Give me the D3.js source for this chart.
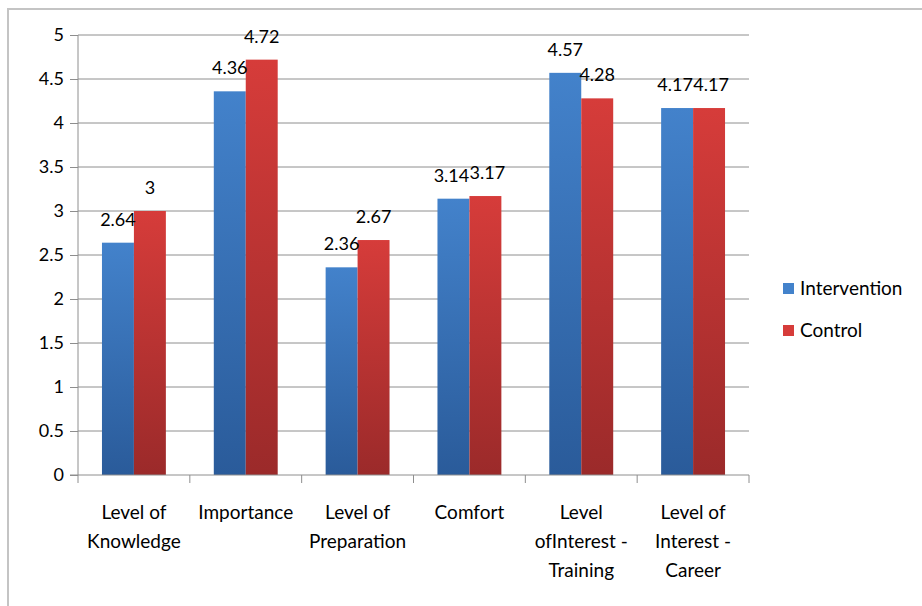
<!doctype html>
<html>
<head>
<meta charset="utf-8">
<script src="https://cdn.jsdelivr.net/npm/d3@7"></script>
<style>
  body { margin:0; background:#fff; }
  text { font-family: Lato, "Open Sans", sans-serif; fill:#000; }
</style>
</head>
<body>
<svg id="chart"></svg>
<script>
// data
var categories = ["Level of Knowledge","Importance","Level of Preparation","Comfort","Level ofInterest - Training","Level of Interest - Career"];
var catLines = [["Level of","Knowledge"],["Importance"],["Level of","Preparation"],["Comfort"],["Level","ofInterest -","Training"],["Level of","Interest -","Career"]];
var series = ["Intervention","Control"];
var intervention = [2.64,4.36,2.36,3.14,4.57,4.17];
var control = [3,4.72,2.67,3.17,4.28,4.17];
var yTicks = [0,0.5,1,1.5,2,2.5,3,3.5,4,4.5,5];

var width=922,height=606;
var plot={left:78,right:749,top:35,bottom:475};
var colors={Intervention:["#4382cb","#2a5b9a"],Control:["#d63c3a","#9b2a2a"]};

var svg=d3.select("#chart").attr("width",width).attr("height",height);

// outer frame
svg.append("rect").attr("x",8).attr("y",9).attr("width",width).attr("height",height)
   .attr("fill","#fff").attr("stroke","#c4c4c4").attr("stroke-width",2);

var defs=svg.append("defs");
series.forEach(function(s){
  var g=defs.append("linearGradient").attr("id","g"+s).attr("x1",0).attr("y1",0).attr("x2",0).attr("y2",1);
  g.append("stop").attr("offset","0%").attr("stop-color",colors[s][0]);
  g.append("stop").attr("offset","100%").attr("stop-color",colors[s][1]);
});

var x=d3.scaleBand().domain(categories).range([plot.left,plot.right]);
var xs=d3.scaleBand().domain(series).range([0,x.bandwidth()]).paddingInner(0).paddingOuter(0.75);
var y=d3.scaleLinear().domain([0,5]).range([plot.bottom,plot.top]);

// gridlines
svg.append("g").selectAll("line").data(yTicks.filter(function(t){return t>0;})).enter().append("line")
   .attr("x1",plot.left).attr("x2",plot.right)
   .attr("y1",function(d){return y(d);}).attr("y2",function(d){return y(d);})
   .attr("stroke","#8e8e8e").attr("stroke-width",1);

// y axis
var yaxis=d3.axisLeft(y).tickValues(yTicks).tickSize(8).tickPadding(6).tickFormat(function(d){return String(d);});
var yg=svg.append("g").attr("transform","translate("+plot.left+",0)").call(yaxis);
yg.select(".domain").attr("stroke","#8e8e8e").attr("d","M0,"+plot.top+"V"+plot.bottom);
yg.selectAll(".tick line").attr("stroke","#8e8e8e");
yg.selectAll(".tick text").style("font-size","18px").attr("fill","#000");

// bars
var data=categories.map(function(c,i){return {cat:c,vals:[{s:"Intervention",v:intervention[i],o:control[i]},{s:"Control",v:control[i],o:intervention[i]}]};});
var grp=svg.append("g").selectAll("g").data(data).enter().append("g")
   .attr("transform",function(d){return "translate("+x(d.cat)+",0)";});
grp.selectAll("rect").data(function(d){return d.vals;}).enter().append("rect")
   .attr("x",function(d){return xs(d.s);}).attr("width",xs.bandwidth())
   .attr("y",function(d){return y(d.v);}).attr("height",function(d){return y(0)-y(d.v);})
   .attr("fill",function(d){return "url(#g"+d.s+")";});

// x axis
var xg=svg.append("g").attr("transform","translate(0,"+plot.bottom+")");
xg.append("path").attr("stroke","#8e8e8e").attr("fill","none").attr("d","M"+(plot.left-8)+",0H"+plot.right);
xg.selectAll("line.sep").data(d3.range(categories.length+1)).enter().append("line").attr("class","sep")
   .attr("x1",function(i){return plot.left+i*x.step();}).attr("x2",function(i){return plot.left+i*x.step();})
   .attr("y1",0).attr("y2",8).attr("stroke","#8e8e8e");

// category labels
var cl=svg.append("g").selectAll("text").data(categories).enter().append("text")
   .attr("text-anchor","middle").style("font-size","19px")
   .attr("x",function(d){return x(d)+x.bandwidth()/2;}).attr("y",519);
cl.each(function(d,i){
  var t=d3.select(this);
  catLines[i].forEach(function(l,j){
    t.append("tspan").attr("x",x(d)+x.bandwidth()/2).attr("dy",j==0?0:29).text(l);
  });
});

// value labels (nudged apart a little where the pair sits at the same height)
grp.selectAll("text.val").data(function(d){return d.vals;}).enter().append("text").attr("class","val")
   .attr("text-anchor","middle").style("font-size","18px")
   .attr("x",function(d){
     var cx=xs(d.s)+xs.bandwidth()/2;
     if(Math.abs(y(d.v)-y(d.o))<18) cx+=(d.s=="Intervention"?-2:2);
     return cx;})
   .attr("y",function(d){return y(d.v)-17;})
   .text(function(d){return String(d.v);});

// legend
var lg=svg.append("g").selectAll("g").data(series).enter().append("g")
   .attr("transform",function(d,i){return "translate(783,"+(283+i*42)+")";});
lg.append("rect").attr("width",11).attr("height",11).attr("fill",function(d){return colors[d][0];});
lg.append("text").attr("x",17).attr("y",12).style("font-size","19px").text(function(d){return d;});
</script>
</body>
</html>
